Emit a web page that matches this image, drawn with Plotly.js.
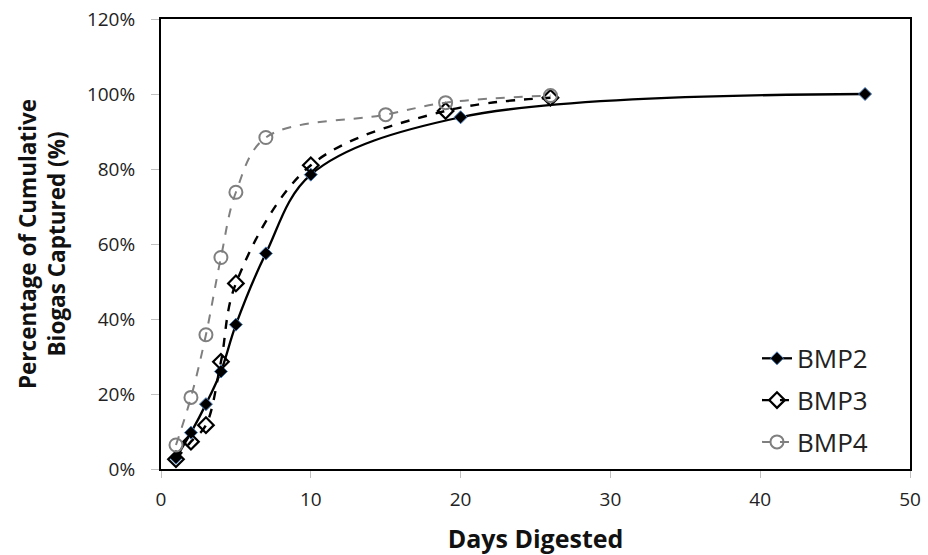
<!DOCTYPE html>
<html>
<head>
<meta charset="utf-8">
<script src="https://cdn.plot.ly/plotly-3.0.1.min.js"></script>
<style>html,body{margin:0;padding:0;background:#fff;}#chart{width:928px;height:555px;}</style>
</head>
<body>
<div id="chart"></div>
<script>
var seriesNames = ["BMP2", "BMP3", "BMP4"];
var bmp2Days = [1, 2, 3, 4, 5, 7, 10, 20, 47];
var bmp2Pct  = [3.0, 9.7, 17.3, 26.0, 38.5, 57.5, 78.5, 93.8, 100];
var bmp3Days = [1, 2, 3, 4, 5, 10, 19, 26];
var bmp3Pct  = [2.6, 7.3, 11.7, 28.6, 49.5, 81.0, 95.5, 99.0];
var bmp4Days = [1, 2, 3, 4, 5, 7, 15, 19, 26];
var bmp4Pct  = [6.4, 19.1, 35.8, 56.4, 73.8, 88.4, 94.5, 97.7, 99.6];
var xTitle = "Days Digested";
var yTitle = "Percentage of Cumulative<br>Biogas Captured (%)";

var font = "Open Sans, Liberation Sans, sans-serif";

var traces = [
  {x: bmp2Days, y: bmp2Pct, name: seriesNames[0], type: "scatter", mode: "lines+markers", legendgroup: "a",
   line: {color: "#000", width: 2.3, shape: "spline", smoothing: 1},
   marker: {symbol: "diamond", size: 10, color: "#000", line: {color: "#4a7ebb", width: 1}}},
  {x: bmp3Days, y: bmp3Pct, name: seriesNames[1], type: "scatter", mode: "lines+markers", legendgroup: "b",
   line: {color: "#000", width: 2.4, dash: "dash", shape: "spline", smoothing: 1},
   marker: {symbol: "diamond-open", size: 12, color: "#000", line: {color: "#000", width: 2.2}}},
  {x: bmp4Days, y: bmp4Pct, name: seriesNames[2], type: "scatter", mode: "lines+markers", legendgroup: "c",
   line: {color: "#7f7f7f", width: 2, dash: "dash", shape: "spline", smoothing: 1},
   marker: {symbol: "circle-open", size: 13, color: "#7f7f7f", line: {color: "#7f7f7f", width: 2}}}
];

var layout = {
  width: 928, height: 555,
  margin: {l: 161, r: 18, t: 19, b: 86},
  paper_bgcolor: "#fff", plot_bgcolor: "#fff",
  font: {family: font, color: "#222", size: 19},
  showlegend: true,
  legend: {x: 0.7957, y: 0.298, xanchor: "left", yanchor: "top", font: {size: 26, color: "#222"},
           bgcolor: "rgba(0,0,0,0)", tracegroupgap: 5, traceorder: "grouped", itemwidth: 30},
  xaxis: {range: [0, 50], dtick: 10, tick0: 0, showgrid: false, zeroline: false,
          showline: true, mirror: true, linecolor: "#000", linewidth: 2,
          ticks: "outside", ticklen: 7, tickcolor: "#c0c0c0", ticklabelstandoff: 5,
          tickfont: {size: 19, color: "#222"},
          title: {text: "<b>" + xTitle + "</b>", font: {size: 25, color: "#111"}, standoff: 22}},
  yaxis: {range: [0, 120], dtick: 20, tick0: 0, ticksuffix: "%", showgrid: false, zeroline: false,
          showline: true, mirror: true, linecolor: "#000", linewidth: 2,
          ticks: "outside", ticklen: 8, tickcolor: "#c0c0c0", ticklabelstandoff: 12,
          tickfont: {size: 19, color: "#222"},
          title: {text: "<b>" + yTitle + "</b>", font: {size: 22.5, color: "#111"}, standoff: 15}}
};

Plotly.newPlot("chart", traces, layout, {displayModeBar: false, staticPlot: true});
</script>
</body>
</html>
